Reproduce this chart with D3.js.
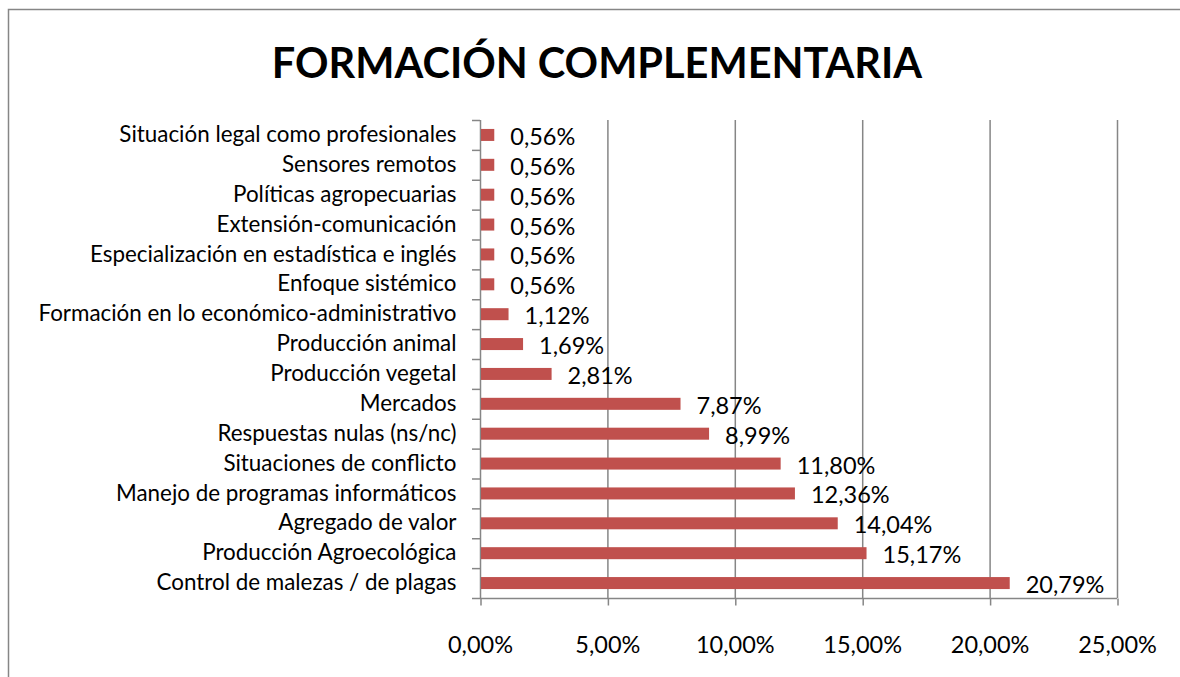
<!DOCTYPE html>
<html>
<head>
<meta charset="utf-8">
<script src="https://cdn.jsdelivr.net/npm/d3@7/dist/d3.min.js"></script>
<style>
  html, body { margin: 0; padding: 0; background: #fff; }
  svg { display: block; }
  text { font-family: Lato, "Open Sans", sans-serif; fill: #000; }
</style>
</head>
<body>
<svg id="chart" width="1180" height="677"></svg>
<script>
const title = "FORMACIÓN COMPLEMENTARIA";
const categories = [
  "Situación legal como profesionales",
  "Sensores remotos",
  "Políticas agropecuarias",
  "Extensión-comunicación",
  "Especialización en estadística e inglés",
  "Enfoque sistémico",
  "Formación en lo económico-administrativo",
  "Producción animal",
  "Producción vegetal",
  "Mercados",
  "Respuestas nulas (ns/nc)",
  "Situaciones de conflicto",
  "Manejo de programas informáticos",
  "Agregado de valor",
  "Producción Agroecológica",
  "Control de malezas / de plagas"
];
const values = [0.56, 0.56, 0.56, 0.56, 0.56, 0.56, 1.12, 1.69, 2.81, 7.87, 8.99, 11.80, 12.36, 14.04, 15.17, 20.79];
const xTicks = [0, 5, 10, 15, 20, 25];

const fmt = v => v.toFixed(2).replace(".", ",") + "%";

const svg = d3.select("#chart");
const grid = "#868686";

// outer frame
svg.append("path")
  .attr("d", "M8.5,677 L8.5,9.5 L1180,9.5")
  .attr("fill", "none").attr("stroke", grid).attr("stroke-width", 1.5);

const pLeft = 480, pRight = 1117, pTop = 120, pBottom = 598;
const x = d3.scaleLinear().domain([0, 25]).range([pLeft, pRight]);
const y = d3.scaleBand().domain(categories).range([pTop, pBottom]).paddingInner(0).paddingOuter(0);

// title
svg.append("text")
  .attr("x", 597).attr("y", 78)
  .attr("text-anchor", "middle")
  .style("font-size", "41.5px").style("font-weight", "bold")
  .text(title);

// gridlines
svg.append("g").selectAll("line").data(xTicks.slice(1)).join("line")
  .attr("x1", d => x(d) + 0.5).attr("x2", d => x(d) + 0.5)
  .attr("y1", pTop).attr("y2", pBottom)
  .attr("stroke", grid).attr("stroke-width", 1.5);

// x axis
const xAxis = d3.axisBottom(x).tickValues(xTicks).tickFormat(fmt).tickSize(7).tickPadding(31);
const gx = svg.append("g").attr("transform", `translate(0,${pBottom + 0.5})`).call(xAxis);
gx.select(".domain").attr("stroke", grid).attr("stroke-width", 1.5).attr("d", `M${pLeft},0H${pRight}`);
gx.selectAll(".tick line").attr("stroke", grid).attr("stroke-width", 1.5).attr("transform", "translate(0.5,0)");
gx.selectAll(".tick text").style("font-size", "23.5px").style("font-family", "Lato, sans-serif").attr("fill", "#000");

// y axis
const yAxis = d3.axisLeft(y).tickSize(0).tickPadding(24);
const gy = svg.append("g").attr("transform", `translate(${pLeft + 0.5},0)`).call(yAxis);
gy.select(".domain").attr("stroke", grid).attr("stroke-width", 1.5).attr("d", `M0,${pTop}V${pBottom}`);
gy.selectAll(".tick text").style("font-size", "22.4px").style("font-family", "Lato, sans-serif").attr("fill", "#000");
// category separator ticks
const bounds = categories.map(c => y(c)).concat([pBottom]);
svg.append("g").selectAll("line").data(bounds).join("line")
  .attr("x1", pLeft - 8).attr("x2", pLeft)
  .attr("y1", d => d + 0.5).attr("y2", d => d + 0.5)
  .attr("stroke", grid).attr("stroke-width", 1.5);

// bars
const barH = 12;
svg.append("g").selectAll("rect").data(categories).join("rect")
  .attr("x", pLeft + 1)
  .attr("y", (d, i) => y(d) + y.bandwidth() / 2 - barH / 2)
  .attr("width", (d, i) => x(values[i]) - pLeft - 1)
  .attr("height", barH)
  .attr("fill", "#C0504D");

// data labels
svg.append("g").selectAll("text").data(categories).join("text")
  .attr("x", (d, i) => x(values[i]) + 16)
  .attr("y", (d, i) => y(d) + y.bandwidth() / 2 + 10)
  .style("font-size", "23.5px")
  .text((d, i) => fmt(values[i]));
</script>
</body>
</html>
